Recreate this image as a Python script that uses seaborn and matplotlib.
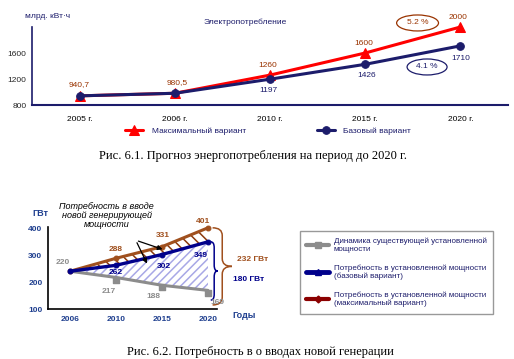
import numpy as np
import pandas as pd
import matplotlib.pyplot as plt
import seaborn as sns
from matplotlib.patches import Ellipse, PathPatch
from matplotlib.path import Path
from matplotlib.lines import Line2D

# --- data: chart 6.1 ---
years_top = ['2005 г.', '2006 г.', '2010 г.', '2015 г.', '2020 г.']
max_var = [940.7, 980.5, 1260, 1600, 2000]
base_var = [940.7, 980.5, 1197, 1426, 1710]

# --- data: chart 6.2 ---
years_bot = ['2006', '2010', '2015', '2020']
existing = [240, 217, 188, 169]
need_base = [240, 262, 302, 349]
need_max = [240, 288, 331, 401]
existing_labels = ['220', '217', '188', '169']

sns.set_style('white')
plt.rcParams['font.family'] = ['Liberation Sans', 'DejaVu Sans']

W, H = 514, 359
fig = plt.figure(figsize=(W / 100, H / 100), dpi=100)

def fx(px):
    return px / W

def fy(py):
    return 1 - py / H

NAVY = '#1c1c6b'
BROWN = '#993300'
RED = '#ff0000'

# ================= top chart =================
ax1 = fig.add_axes([fx(32), fy(105), fx(508) - fx(32), fy(27) - fy(105)])
xt = np.arange(len(years_top))
top = pd.DataFrame({'x': np.concatenate([xt, xt]),
                    'v': max_var + base_var,
                    'var': ['Максимальный вариант'] * 5 + ['Базовый вариант'] * 5})
sns.lineplot(data=top[top['var'] == 'Максимальный вариант'], x='x', y='v', ax=ax1,
             color=RED, lw=2.2, marker='^', markersize=7, markeredgecolor=RED,
             label='Максимальный вариант', clip_on=False)
sns.lineplot(data=top[top['var'] == 'Базовый вариант'], x='x', y='v', ax=ax1,
             color=NAVY, lw=2.2, marker='o', markersize=5.5, markeredgecolor=NAVY,
             label='Базовый вариант', clip_on=False)
ax1.set_xlim(-0.5, 4.5)
ax1.set_ylim(800, 2000)
ax1.set_yticks([800, 1200, 1600])
ax1.set_xticks(xt)
ax1.set_xticklabels(years_top)
ax1.set_xticks(xt[:-1] + 0.5, minor=True)
ax1.tick_params(axis='x', which='major', length=0, labelsize=6, colors='black', pad=8)
ax1.tick_params(axis='x', which='minor', length=3, direction='in', color=NAVY, width=1)
ax1.tick_params(axis='y', length=3, direction='out', color=NAVY, labelsize=6, pad=1, width=1)
ax1.set_xlabel('')
ax1.set_ylabel('')
for s in ['top', 'right']:
    ax1.spines[s].set_visible(False)
ax1.spines['left'].set_color(NAVY)
ax1.spines['bottom'].set_color(NAVY)
ax1.spines['bottom'].set_linewidth(1.5)
ax1.spines['left'].set_linewidth(1.2)

top_off_max = [(0, 8), (1.5, 8), (-2, 7), (-1, 7), (-2, 7)]
for i, (v, off) in enumerate(zip(max_var, top_off_max)):
    lab = f'{v:g}'.replace('.', ',')
    ax1.annotate(lab, (i, v), xytext=off, textcoords='offset points',
                 ha='center', va='center', fontsize=6, color=BROWN, annotation_clip=False)
top_off_base = [(-1.5, -8), (1, -8), (0, -9)]
for i, off in zip(range(2, 5), top_off_base):
    ax1.annotate(f'{base_var[i]:g}', (i, base_var[i]), xytext=off, textcoords='offset points',
                 ha='center', va='center', fontsize=6, color=NAVY)

ax1.add_patch(Ellipse((3.55, 2062), 0.44, 246, fc='white', ec=BROWN, lw=0.9, clip_on=False))
ax1.text(3.55, 2062, '5.2 %', ha='center', va='center', fontsize=6, color=BROWN, clip_on=False)
ax1.add_patch(Ellipse((3.65, 1385), 0.42, 246, fc='white', ec=NAVY, lw=0.9))
ax1.text(3.65, 1385, '4.1 %', ha='center', va='center', fontsize=6, color=NAVY)

ax1.legend(loc='center left', bbox_to_anchor=(fx(125), fy(131)), bbox_transform=fig.transFigure,
           ncol=2, frameon=False, fontsize=6, handlelength=2.2, handletextpad=1.0,
           columnspacing=8.5, borderpad=0, borderaxespad=0, labelcolor=NAVY)

fig.text(fx(245), fy(22), 'Электропотребление', ha='center', va='center', fontsize=6, color=NAVY)
fig.text(fx(25), fy(17), 'млрд. кВт·ч', ha='left', va='center', fontsize=6, color=NAVY)
fig.text(fx(253), fy(156), 'Рис. 6.1. Прогноз энергопотребления на период до 2020 г.',
         ha='center', va='center', fontsize=9, family='Liberation Serif', color='black')

# ================= bottom chart =================
ax2 = fig.add_axes([fx(48), fy(309), fx(217) - fx(48), fy(227) - fy(309)])
xb = np.arange(len(years_bot))
bot = pd.DataFrame({'x': xb, 'existing': existing, 'base': need_base, 'max': need_max})

GRAY = '#8c8c8c'
BLUE = '#00008b'
DBROWN = '#a0501e'
plt.rcParams['hatch.linewidth'] = 1.1
ax2.fill_between(bot['x'], bot['existing'], bot['base'], facecolor='white',
                 edgecolor='#a8a8e6', hatch='////', lw=0)
ax2.fill_between(bot['x'], bot['base'], bot['max'], facecolor='white',
                 edgecolor='#8b3a0e', hatch='\\\\\\', lw=0)
sns.lineplot(data=bot, x='x', y='existing', ax=ax2, color=GRAY, lw=2.2)
ax2.scatter(bot['x'][1:], bot['existing'][1:] - 8, marker='s', s=22, color=GRAY, zorder=4)
sns.lineplot(data=bot, x='x', y='max', ax=ax2, color=DBROWN, lw=2.2,
             marker='o', markersize=3.5, markeredgecolor=DBROWN, clip_on=False)
sns.lineplot(data=bot, x='x', y='base', ax=ax2, color=BLUE, lw=2.4,
             marker='o', markersize=3.5, markeredgecolor=BLUE)
ax2.set_xlim(-0.478, 3.196)
ax2.set_ylim(100, 404)
ax2.set_yticks([100, 200, 300, 400])
ax2.set_xticks(xb)
ax2.set_xticklabels(years_bot)
ax2.set_xlabel('')
ax2.set_ylabel('')
ax2.tick_params(axis='both', length=2, width=1, labelsize=6, colors='black', pad=2)
for lab in ax2.get_xticklabels() + ax2.get_yticklabels():
    lab.set_color('#1f3f8f')
    lab.set_fontweight('bold')
ax2.tick_params(axis='x', length=0, pad=5)
for s in ['top', 'right']:
    ax2.spines[s].set_visible(False)
for s in ['left', 'bottom']:
    ax2.spines[s].set_color('black')
    ax2.spines[s].set_linewidth(1.2)

lab_style = dict(textcoords='offset points', ha='center', va='center', fontsize=6,
                 fontweight='bold', annotation_clip=False)
off_ex = [(-5, 6.5), (-5, -10), (-6.5, -8), (6.5, -8.5)]
for i, (v, t, off) in enumerate(zip(existing, existing_labels, off_ex)):
    ax2.annotate(t, (i, v), xytext=off, color=GRAY, **lab_style)
off_max = [(0, 6.5), (0.7, 8.4), (-3.6, 4.5)]
for i, off in zip(range(1, 4), off_max):
    ax2.annotate(str(need_max[i]), (i, need_max[i]), xytext=off, color=DBROWN, **lab_style)
off_base = [(0, -5.5), (1.4, -8.3), (-5, -10)]
for i, off in zip(range(1, 4), off_base):
    ax2.annotate(str(need_base[i]), (i, need_base[i]), xytext=off, color=BLUE, **lab_style)


def brace(ax, x, y0, y1, w, color):
    ym = (y0 + y1) / 2
    r = (y1 - y0) * 0.1
    xm = x + w / 2
    verts = [(x, y1), (xm, y1), (xm, y1 - r), (xm, ym + r), (xm, ym), (x + w, ym),
             (xm, ym), (xm, ym - r), (xm, y0 + r), (xm, y0), (x, y0)]
    codes = [Path.MOVETO, Path.CURVE3, Path.CURVE3, Path.LINETO, Path.CURVE3, Path.CURVE3,
             Path.CURVE3, Path.CURVE3, Path.LINETO, Path.CURVE3, Path.CURVE3]
    ax.add_patch(PathPatch(Path(verts, codes), fc='none', ec=color, lw=1.1, clip_on=False))


brace(ax2, 3.1, 115, need_max[3], 0.42, DBROWN)
brace(ax2, 3.06, 133, need_base[3], 0.15, BLUE)
ax2.text(3.63, 285, f'{need_max[3] - existing[3]} ГВт', fontsize=6, fontweight='bold',
         color=DBROWN, va='center', clip_on=False)
ax2.text(3.54, 211, f'{need_base[3] - existing[3]} ГВт', fontsize=6, fontweight='bold',
         color=BLUE, va='center', clip_on=False)

for head in [(2.07, 318), (1.70, 259)]:
    ax2.annotate('', xy=head, xytext=(1.43, 355),
                 arrowprops=dict(arrowstyle='-|>', color='black', lw=0.9, mutation_scale=7),
                 annotation_clip=False)
ax2.text(0.8, 448, 'Потребность в вводе\nновой генерирующей\nмощности', ha='center', va='center',
         fontsize=6.5, style='italic', color='black', linespacing=1.0, clip_on=False)

fig.text(fx(32), fy(213), 'ГВт', fontsize=6.5, fontweight='bold', color='#1f3f8f', va='center')
fig.text(fx(232), fy(316), 'Годы', fontsize=6.5, fontweight='bold', color='#1f3f8f', va='center')

handles = [Line2D([], [], color=GRAY, lw=3, marker='s', markersize=4),
           Line2D([], [], color=BLUE, lw=3.5, marker='^', markersize=5),
           Line2D([], [], color='#8b0000', lw=3, marker='D', markersize=3.5)]
labels = ['Динамика существующей установленной\nмощности',
          'Потребность в установленной мощности\n(базовый вариант)',
          'Потребность в установленной мощности\n(максимальный вариант)']
leg = fig.legend(handles, labels, loc='upper left', bbox_to_anchor=(fx(296), fy(227)),
                 fontsize=5.8, labelcolor=NAVY, handlelength=2.8, handletextpad=0.6,
                 labelspacing=1.4, borderpad=0.8, fancybox=False, edgecolor='#808080')
leg.get_frame().set_linewidth(1.0)

fig.text(fx(260), fy(352), 'Рис. 6.2. Потребность в о вводах новой генерации',
         ha='center', va='center', fontsize=9, family='Liberation Serif', color='black')

fig.savefig('out.png', dpi=100)
